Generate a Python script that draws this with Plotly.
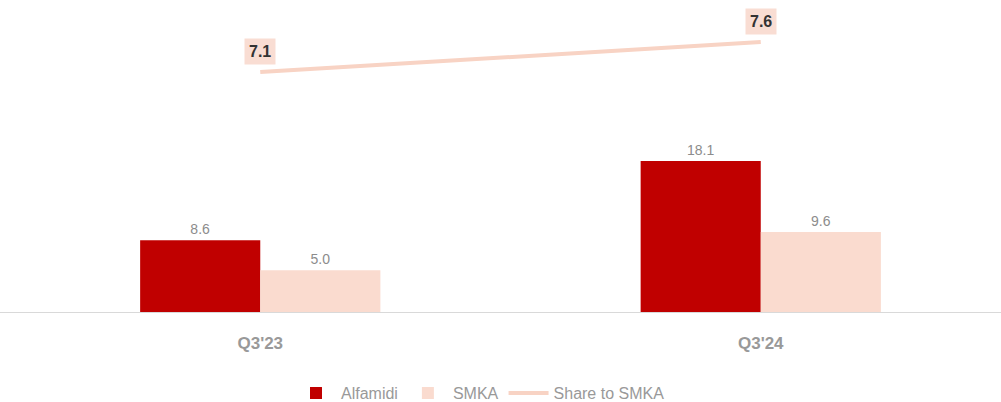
import plotly.graph_objects as go

categories = ["Q3'23", "Q3'24"]
alfamidi = [8.6, 18.1]
smka = [5.0, 9.6]
share = [7.1, 7.6]

fig = go.Figure()
fig.add_trace(go.Bar(
    x=categories, y=alfamidi, name="Alfamidi",
    marker=dict(color="#C00000", line=dict(width=0)),
    text=[f"{v:.1f}" for v in alfamidi], textposition="outside",
    textfont=dict(color="#8C8C8C", size=14, family="Liberation Sans"),
    cliponaxis=False,
))
fig.add_trace(go.Bar(
    x=categories, y=smka, name="SMKA",
    marker=dict(color="#FADBCF", line=dict(width=0)),
    text=[f"{v:.1f}" for v in smka], textposition="outside",
    textfont=dict(color="#8C8C8C", size=14, family="Liberation Sans"),
    cliponaxis=False,
))
fig.add_trace(go.Scatter(
    x=categories, y=share, name="Share to SMKA", yaxis="y2",
    mode="lines", line=dict(color="#F8D3C4", width=4),
))

for c, v in zip(categories, share):
    fig.add_annotation(
        x=c, y=v, xref="x", yref="y2", yshift=21,
        text=f"<b>{v:.1f}</b>", showarrow=False,
        font=dict(color="#333333", size=16, family="Liberation Sans"),
        bgcolor="#F9DDD3", borderpad=4,
    )

fig.update_layout(
    width=1001, height=402,
    margin=dict(l=0, r=0, t=0, b=90, autoexpand=False),
    paper_bgcolor="white", plot_bgcolor="white",
    barmode="group", bargap=0.52, bargroupgap=0,
    font=dict(family="Liberation Sans", color="#8C8C8C"),
    showlegend=True,
    legend=dict(orientation="h", x=0.48, xanchor="center", y=-0.26, yanchor="middle",
                font=dict(size=16, color="#999999"), traceorder="normal",
                itemwidth=40),
    xaxis=dict(range=[-0.52, 1.48], showline=True, linecolor="#D9D9D9", linewidth=1,
               ticks="", showgrid=False, zeroline=False,
               tickfont=dict(size=17, color="#999999", family="Liberation Sans"),
               ticklabelstandoff=16),
    yaxis=dict(range=[0, 37.4], visible=False, showgrid=False, zeroline=False),
    yaxis2=dict(range=[3.1, 8.3], overlaying="y", side="right", visible=False,
                showgrid=False, zeroline=False),
)
fig.update_xaxes(tickprefix="<b>", ticksuffix="</b>")

fig.write_html("out.html")
